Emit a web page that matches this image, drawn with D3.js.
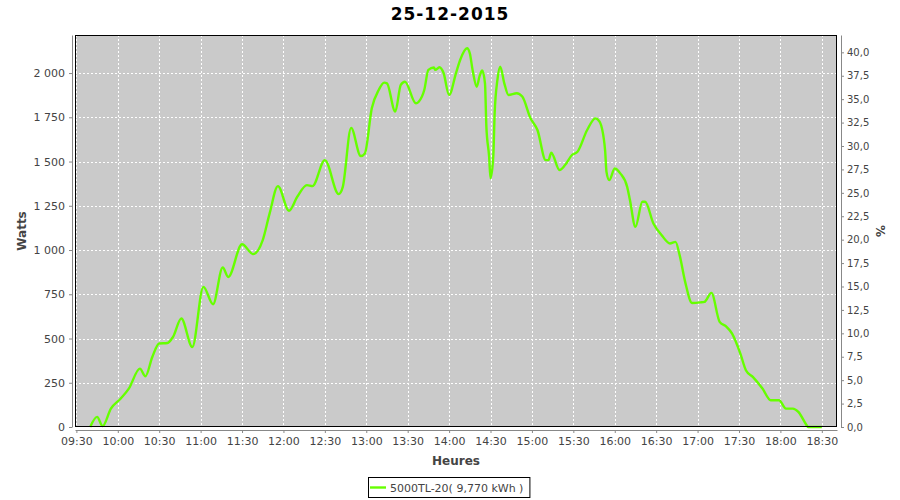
<!DOCTYPE html>
<html>
<head>
<meta charset="utf-8">
<script src="https://cdn.jsdelivr.net/npm/d3@7"></script>
<style>
  body { margin: 0; background: #fff; }
  svg { display: block; }
  text { font-family: "DejaVu Sans", sans-serif; }
</style>
</head>
<body>
<svg id="chart" width="900" height="500"></svg>
<script>
// ---- data ----
const title = "25-12-2015";
const seriesName = "5000TL-20( 9,770 kWh )";
const yLabel = "Watts";
const y2Label = "%";
const xLabel = "Heures";
const xDomainTimes = ["09:29", "18:41"];
const yDomainWatts = [0, 2215];
const y2DomainPct = [0, 41.85];
const yTickValues = [0, 250, 500, 750, 1000, 1250, 1500, 1750, 2000];
const y2TickValues = [0, 2.5, 5, 7.5, 10, 12.5, 15, 17.5, 20, 22.5, 25, 27.5, 30, 32.5, 35, 37.5, 40];
const times = ["09:40","09:45","09:49","09:55","10:02","10:08","10:16","10:20","10:25","10:30",
  "10:36","10:40","10:46","10:54","11:02","11:09","11:16","11:20","11:30","11:38",
  "11:45","11:50","11:56","12:04","12:10","12:17","12:21","12:30","12:40","12:43",
  "12:49","12:56","12:59","13:04","13:09","13:13","13:15","13:21","13:25","13:28",
  "13:36","13:38","13:42","13:45","13:49","13:50","13:53","13:56","14:00","14:05",
  "14:08","14:13","14:15","14:17","14:20","14:22","14:24","14:26","14:27","14:29",
  "14:30","14:32","14:33","14:35","14:37","14:40","14:43","14:49","14:53","14:59",
  "15:04","15:10","15:12","15:14","15:20","15:24","15:29","15:33","15:40","15:46",
  "15:49","15:53","15:54","15:56","16:00","16:04","16:09","16:11","16:15","16:20",
  "16:22","16:28","16:34","16:40","16:44","16:47","16:51","16:56","17:02","17:05",
  "17:10","17:16","17:21","17:25","17:31","17:35","17:40","17:47","17:53","17:59",
  "18:04","18:09","18:13","18:19","18:20","18:30"];
const watts = [0,57,5,104,160,217,330,287,396,472,
  475,509,613,452,792,694,901,848,1033,977,
  1056,1207,1361,1222,1301,1367,1361,1508,1316,1357,
  1690,1531,1546,1801,1904,1946,1942,1782,1933,1951,
  1829,1838,1904,2018,2031,2018,2033,2000,1876,2000,
  2074,2140,2112,2018,1923,1980,2014,1942,1697,1527,
  1405,1527,1773,1961,2036,1942,1876,1886,1867,1744,
  1678,1508,1508,1550,1452,1480,1537,1555,1678,1744,
  1725,1565,1442,1395,1461,1433,1357,1282,1131,1273,
  1273,1150,1084,1037,1046,971,820,701,704,707,
  758,594,566,528,415,321,283,217,151,151,
  104,104,85,10,0,0];

// ---- layout ----
const plot = { left: 75, top: 35, right: 837, bottom: 427 };
const svg = d3.select("#chart");
svg.append("rect").attr("width", 900).attr("height", 500).attr("fill", "#fff");

const parse = d3.timeParse("%H:%M");
const data = times.map((t, i) => ({ t: parse(t), v: watts[i] }));

const x = d3.scaleTime().domain(xDomainTimes.map(parse)).range([plot.left, plot.right]);
const y = d3.scaleLinear().domain(yDomainWatts).range([plot.bottom, plot.top]);
const y2 = d3.scaleLinear().domain(y2DomainPct).range([plot.bottom, plot.top]);

const locale = d3.formatLocale({ decimal: ",", thousands: " ", grouping: [3], currency: ["", ""] });
const fmtW = locale.format(",d");
const fmtP = locale.format(".1f");
const xTicks = x.ticks(d3.timeMinute.every(30));

// plot background
svg.append("rect")
  .attr("x", plot.left).attr("y", plot.top)
  .attr("width", plot.right - plot.left).attr("height", plot.bottom - plot.top)
  .attr("fill", "#cacaca");

// gridlines
const grid = svg.append("g").attr("stroke", "#fff").attr("stroke-width", 1).attr("stroke-dasharray", "2,2");
grid.selectAll("line.v").data(xTicks).join("line").attr("class", "v")
  .attr("x1", d => Math.round(x(d)) + 0.5).attr("x2", d => Math.round(x(d)) + 0.5)
  .attr("y1", plot.top).attr("y2", plot.bottom);
grid.selectAll("line.h").data(yTickValues).join("line").attr("class", "h")
  .attr("y1", d => Math.round(y(d)) + 0.5).attr("y2", d => Math.round(y(d)) + 0.5)
  .attr("x1", plot.left).attr("x2", plot.right);

// line
const line = d3.line().x(d => x(d.t)).y(d => y(d.v)).curve(d3.curveMonotoneX);
svg.append("path").datum(data)
  .attr("fill", "none").attr("stroke", "#66ff00").attr("stroke-width", 2.4)
  .attr("stroke-linejoin", "round").attr("d", line);

// frame
svg.append("rect")
  .attr("x", plot.left + 0.5).attr("y", plot.top + 0.5)
  .attr("width", plot.right - plot.left - 1).attr("height", plot.bottom - plot.top - 1)
  .attr("fill", "none").attr("stroke", "#000").attr("stroke-width", 1);

function styleAxis(g) {
  g.selectAll("path").attr("stroke", "#888");
  g.selectAll("line").attr("stroke", "#888");
  g.selectAll("text").attr("fill", "#444").style("font-family", "DejaVu Sans, sans-serif").style("font-size", "11px");
}

// axes
const gx = svg.append("g").attr("transform", `translate(0,${plot.bottom + 3})`)
  .call(d3.axisBottom(x).tickValues(xTicks).tickFormat(d3.timeFormat("%H:%M")).tickSizeInner(3).tickSizeOuter(0).tickPadding(4));
styleAxis(gx);
const gy = svg.append("g").attr("transform", `translate(${plot.left - 3},0)`)
  .call(d3.axisLeft(y).tickValues(yTickValues).tickFormat(fmtW).tickSizeInner(3).tickSizeOuter(0).tickPadding(4));
styleAxis(gy);
const gy2 = svg.append("g").attr("transform", `translate(${plot.right + 4},0)`)
  .call(d3.axisRight(y2).tickValues(y2TickValues).tickFormat(fmtP).tickSizeInner(3).tickSizeOuter(0).tickPadding(3));
styleAxis(gy2);
gy2.selectAll("text").style("font-size", "10px");

// titles
svg.append("text").attr("x", 450).attr("y", 20).attr("text-anchor", "middle")
  .style("font-size", "17px").style("font-weight", "bold").style("letter-spacing", "1px")
  .attr("fill", "#000").text(title);

const cy = (plot.top + plot.bottom) / 2;
svg.append("text").attr("transform", `translate(26,${cy}) rotate(-90)`)
  .attr("text-anchor", "middle").style("font-size", "12px").style("font-weight", "bold")
  .attr("fill", "#444").text(yLabel);
svg.append("text").attr("transform", `translate(876,${cy}) rotate(90)`)
  .attr("text-anchor", "middle").style("font-size", "12px").style("font-weight", "bold")
  .attr("fill", "#444").text(y2Label);
svg.append("text").attr("x", (plot.left + plot.right) / 2).attr("y", 465)
  .attr("text-anchor", "middle").style("font-size", "12px").style("font-weight", "bold")
  .attr("fill", "#444").text(xLabel);

// legend
const lg = svg.append("g");
const lt = lg.append("text").attr("x", 390).attr("y", 492)
  .style("font-size", "11px").attr("fill", "#444").text(seriesName);
const bb = lt.node().getBBox();
lg.insert("rect", "text").attr("x", 368.5).attr("y", 477.5)
  .attr("width", bb.x + bb.width + 6 - 368).attr("height", 20)
  .attr("fill", "#fff").attr("stroke", "#000");
lg.append("line").attr("x1", 370).attr("x2", 386).attr("y1", 487.5).attr("y2", 487.5)
  .attr("stroke", "#66ff00").attr("stroke-width", 2.4);
</script>
</body>
</html>
